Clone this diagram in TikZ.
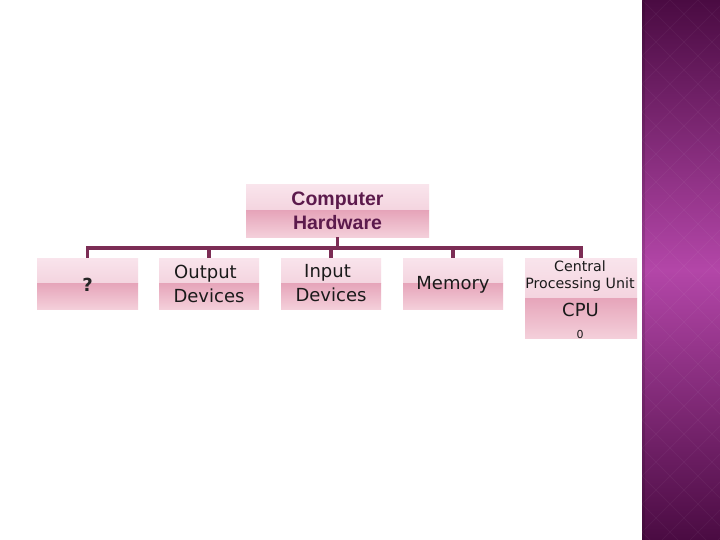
\documentclass[tikz,border=0pt]{standalone}
\usepackage{fontspec}
\setmainfont{DejaVu Sans}
\newfontfamily\hwfont{Liberation Sans}
\definecolor{boxA}{HTML}{F9E4EC}
\definecolor{boxB}{HTML}{EFC4D2}
\definecolor{boxC}{HTML}{E6A5BA}
\definecolor{boxD}{HTML}{F4CFDA}
\definecolor{connc}{HTML}{7C2D55}
\definecolor{hwtext}{HTML}{5C1A4C}
\definecolor{bandT}{HTML}{4A0B42}
\definecolor{bandM}{HTML}{B346A8}
\definecolor{txt}{HTML}{1A1A1A}
\begin{document}
\begin{tikzpicture}[x=1pt,y=1pt,
  boxsty/.style={rectangle, draw=none, inner sep=0pt,
    path picture={
      \fill[top color=boxA, bottom color=boxB] (path picture bounding box.north west) rectangle (path picture bounding box.east);
      \fill[top color=boxC, bottom color=boxD] (path picture bounding box.west) rectangle (path picture bounding box.south east);
    }},
  childbox/.style={boxsty, minimum height=51pt},
  lbl/.style={text=txt, font=\fontsize{18}{24}\selectfont, align=center, inner sep=0pt},
  conn/.style={draw=connc, line width=3.8pt},
  ]
\useasboundingbox (0,0) rectangle (720,-540);
\fill[white] (0,0) rectangle (720,-540);
% right band
\shade[top color=bandT, bottom color=bandT, middle color=bandM] (642,0) rectangle (720,-540);
\begin{scope}
  \clip (642,0) rectangle (720,-540);
  \foreach \k in {-30,...,30} {
    \draw[white, opacity=0.04, line width=0.8pt] (642+28*\k,0) -- ++(540,-540);
    \draw[white, opacity=0.04, line width=0.8pt] (642+28*\k,0) -- ++(-540,-540);
  }
\end{scope}
\fill[black, opacity=0.12] (642,0) rectangle (645,-540);

% boxes
\node[boxsty, minimum width=183pt, minimum height=52pt] (hw) at (337.5,-211) {};
\node[text=hwtext, font=\hwfont\bfseries\fontsize{19.5}{24}\selectfont, align=center, inner sep=0pt] (hwt) at (hw.center) {Computer\\Hardware};

\node[childbox, minimum width=101pt] (q) at (87.5,-283.5) {};
\node[childbox, minimum width=100pt] (out) at (209,-283.5) {};
\node[childbox, minimum width=100pt] (in) at (331,-283.5) {};
\node[childbox, minimum width=100pt] (mem) at (453,-283.5) {};
\node[boxsty, minimum width=112pt, minimum height=80pt] (cpu) at (581,-298) {};

\node[lbl, font=\bfseries\fontsize{18}{24}\selectfont, text=black!85] (qt) at ([yshift=-1.5pt]q.center) {?};
\node[lbl] (outt) at ([yshift=-0.5pt]out.center) {Output\hspace*{7pt}\\Devices};
\node[lbl] (int) at ([yshift=0pt]in.center) {Input\hspace*{7pt}\\Devices};
\node[lbl] (memt) at ([yshift=-1.5pt]mem.center) {Memory};
\node[lbl, font=\fontsize{14.2}{17}\selectfont] (cput1) at (580,-276.5) {Central\\Processing Unit};
\node[lbl] (cput2) at (580.5,-310) {CPU};
\node[lbl, font=\fontsize{11}{12}\selectfont] (cput3) at (580,-334.5) {0};

% connectors
\foreach \c in {q,out,in,mem,cpu} {
  \draw[conn] (hw.south) -- ++(0,-11) -| (\c.north);
}
\end{tikzpicture}
\end{document}
